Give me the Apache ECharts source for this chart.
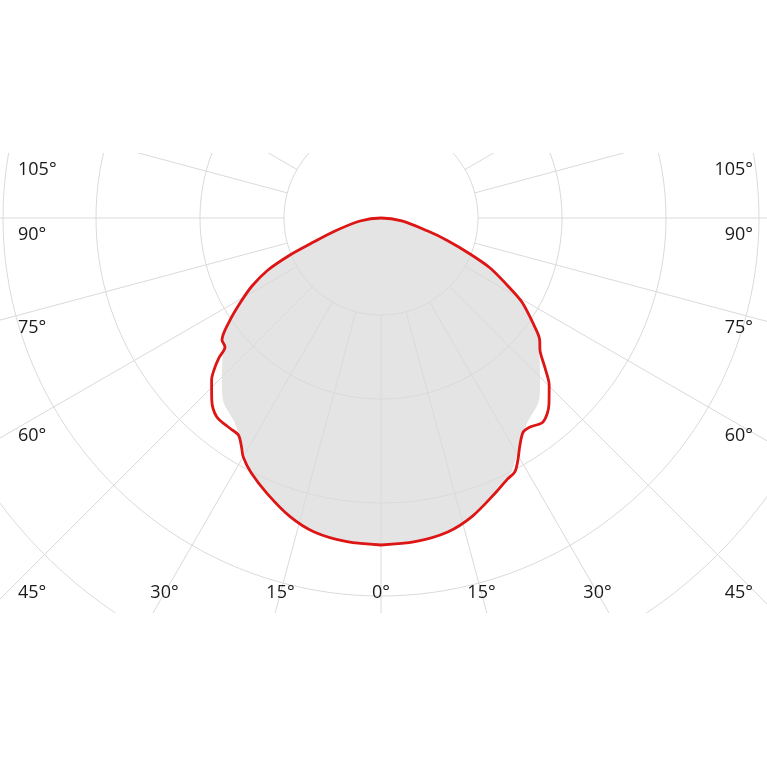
<!DOCTYPE html>
<html><head><meta charset="utf-8">
<script src="https://cdn.jsdelivr.net/npm/echarts@6/dist/echarts.min.js"></script>
<style>html,body{margin:0;padding:0;background:#fff}#c{width:767px;height:767px}</style>
</head><body><div id="c"></div>
<script>
// gamma angles (deg from nadir) and intensities (chart units)
const leftAngles  = [0, 6, 12, 17, 22.5, 27, 30, 31.4, 33.3, 35.7, 39.6, 42.9, 46.3, 47.7, 49.2, 50.4, 52.5, 55.6, 58.9, 62.2, 65.3, 67.9, 69.9, 74.2, 81.9, 90];
const leftRed     = [327, 325.5, 321, 312, 298, 286, 275.6, 267.8, 259.7, 258.9, 257.8, 248.6, 234.3, 225.8, 214.1, 202.4, 200.4, 184.2, 164.6, 145.8, 124.4, 98.2, 75.6, 47.8, 21.2, 0];
const rightAngles = [0, 6, 12, 17, 22.5, 25.9, 27.8, 29.5, 31.5, 33.6, 35.5, 38.5, 42, 45.2, 47.6, 50.3, 52.5, 55, 59.2, 62, 65.4, 68, 71.3, 74.5, 82, 90];
const rightRed    = [327, 325.5, 321, 312, 298, 290, 287, 278, 266, 257, 256.7, 260.5, 251, 237, 222, 206.6, 200, 186.7, 164, 142.7, 120, 96, 70, 48, 21, 0];
const grayAngles  = [0, 6, 12, 17, 22.5, 27, 31, 35.5, 41, 44.5, 49, 52.5, 55.6, 58.9, 62.2, 65.3, 67.9, 69.9, 74.2, 81.9, 90];
const grayValues  = [327, 325.5, 321, 312, 298, 286, 268, 251.7, 241, 227, 210, 199, 184.2, 164.6, 145.8, 124.4, 98.2, 75.6, 47.8, 21.2, 0];
const ringValues  = [97, 181, 285, 378, 476];
const sideLabels  = [105, 90, 75, 60, 45, 30, 15];
const centerLabel = 0;

const CX = 381, CY = 218, TOP = 153, BOTTOM = 613, ROWY = 593;

function toPolar(angles, vals, side) {
  return angles.map((g, i) => [vals[i], side < 0 ? g : 360 - g]);
}
function closedCurve(la, lv, ra, rv) {
  const left = toPolar(la, lv, -1);
  const right = toPolar(ra, rv, 1).reverse();
  return left.concat([[0, 180]], right);
}
const redData = closedCurve(leftAngles, leftRed, rightAngles, rightRed);
const grayData = closedCurve(grayAngles, grayValues, grayAngles, grayValues);

const ringSeries = ringValues.map(r => {
  const d = [];
  for (let a = 0; a <= 360; a += 2) d.push([r, a]);
  return {type: 'line', coordinateSystem: 'polar', polarIndex: 1, data: d, showSymbol: false, silent: true,
    lineStyle: {color: '#dadada', width: 1}, z: 3};
});

function labelFor(g, side) {
  const rad = g * Math.PI / 180;
  const font = '18px "Open Sans"';
  if (g < 90) {
    const off = (ROWY - CY) * Math.tan(rad);
    if (off < 320) {
      return {x: CX + side * off, y: ROWY, align: 'center', font};
    }
  }
  let y = CY + (CX - 33) / Math.tan(rad) + 17;
  if (y < 170) y = 170;
  if (y > ROWY - 20) y = ROWY;
  return {x: side < 0 ? 18 : 753, y, align: side < 0 ? 'left' : 'right', font};
}
const graphics = [
  {type: 'rect', shape: {x: 0, y: 0, width: 767, height: TOP}, style: {fill: '#fff'}, z: 100, silent: true},
  {type: 'rect', shape: {x: 0, y: BOTTOM, width: 767, height: 767 - BOTTOM}, style: {fill: '#fff'}, z: 100, silent: true}
];
function pushLabel(g, side) {
  const p = labelFor(g, side);
  graphics.push({type: 'text', x: p.x, y: p.y, z: 101, silent: true,
    style: {text: g + '°', font: p.font, fill: '#1a1a1a', textAlign: p.align, textVerticalAlign: 'middle', verticalAlign: 'middle'}});
}
sideLabels.forEach(g => { pushLabel(g, -1); pushLabel(g, 1); });
pushLabel(centerLabel, 1);

const chart = echarts.init(document.getElementById('c'), null, {renderer: 'canvas'});
chart.setOption({
  animation: false,
  backgroundColor: '#fff',
  polar: [
    {center: [CX, CY], radius: [ringValues[0], 780]},
    {center: [CX, CY], radius: [0, 500]}
  ],
  angleAxis: [
    {polarIndex: 0, type: 'value', min: 0, max: 360, interval: 15, startAngle: 270, clockwise: true, z: 3,
      axisLine: {show: false}, axisTick: {show: false}, axisLabel: {show: false},
      splitLine: {show: true, lineStyle: {color: '#dadada', width: 1}}},
    {polarIndex: 1, type: 'value', min: 0, max: 360, interval: 15, startAngle: 270, clockwise: true,
      axisLine: {show: false}, axisTick: {show: false}, axisLabel: {show: false}, splitLine: {show: false}}
  ],
  radiusAxis: [
    {polarIndex: 0, type: 'value', min: 0, max: 1, show: false},
    {polarIndex: 1, type: 'value', min: 0, max: 500, show: false}
  ],
  series: [
    {type: 'line', coordinateSystem: 'polar', polarIndex: 1, data: grayData, showSymbol: false, smooth: 0.3, silent: true,
      lineStyle: {width: 0, color: '#e4e4e4'}, areaStyle: {color: '#e4e4e4', opacity: 1}, z: 1},
    ...ringSeries,
    {type: 'line', coordinateSystem: 'polar', polarIndex: 1, data: redData, showSymbol: false, smooth: 0.3, silent: true,
      lineStyle: {width: 2.8, color: '#dd1515'}, z: 5}
  ],
  graphic: graphics
});
</script></body></html>
